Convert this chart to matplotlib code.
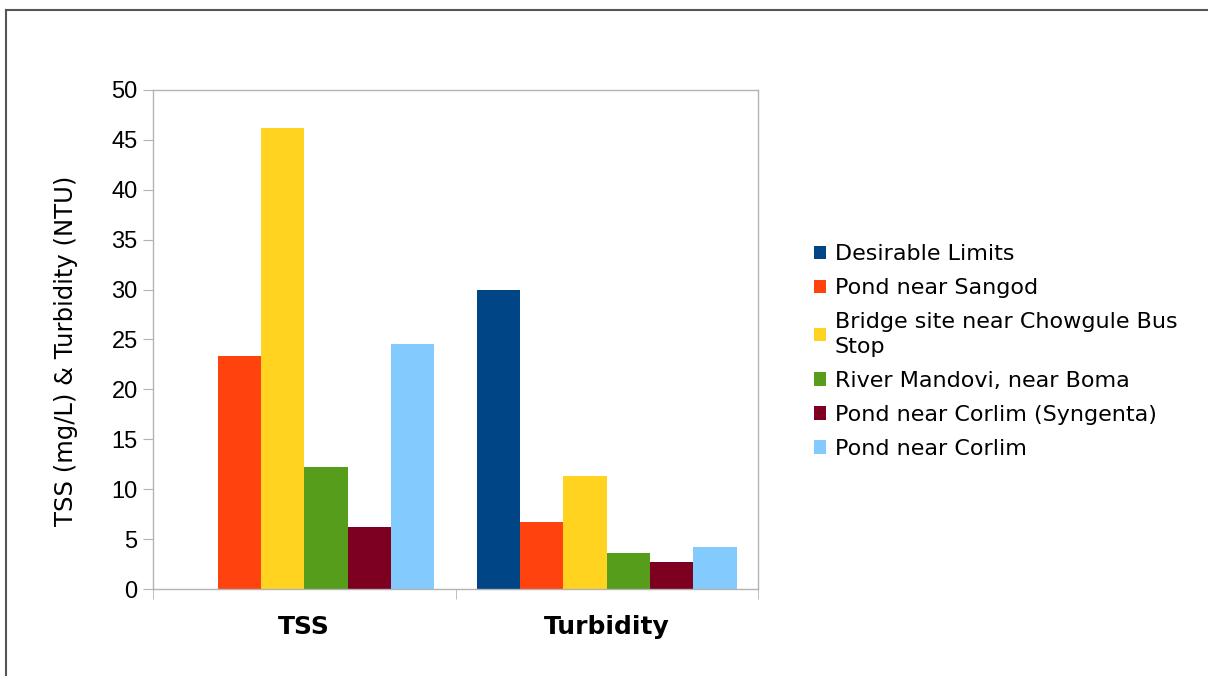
import numpy as np
import matplotlib
matplotlib.use("Agg")
import matplotlib.pyplot as plt
from matplotlib.lines import Line2D

categories = ["TSS", "Turbidity"]
series = ["Desirable Limits", "Pond near Sangod", "Bridge site near Chowgule Bus\nStop",
          "River Mandovi, near Boma", "Pond near Corlim (Syngenta)", "Pond near Corlim"]
desirable = [0, 30]
sangod = [23.3, 6.7]
bridge = [46.2, 11.3]
mandovi = [12.2, 3.6]
corlim_syngenta = [6.2, 2.7]
corlim = [24.5, 4.2]
colors = ["#004586", "#ff420e", "#ffd320", "#579d1c", "#7e0021", "#83caff"]

values = [desirable, sangod, bridge, mandovi, corlim_syngenta, corlim]

W, H = 1208, 676
fig = plt.figure(figsize=(W / 100, H / 100), dpi=100)
ax = fig.add_axes([153 / W, (H - 589) / H, 605 / W, 499 / H])

x = np.arange(len(categories))
bw = 0.86 / len(series)
for i, (name, vals) in enumerate(zip(series, values)):
    off = (i - (len(series) - 1) / 2) * bw
    ax.bar(x + off, vals, bw, color=colors[i], label=name, linewidth=0)

ax.set_xlim(-0.5, 1.5)
ax.set_ylim(0, 50)
ax.set_yticks(np.arange(0, 51, 5))
grey = "#b3b3b3"
for s in ax.spines.values():
    s.set_color(grey)
    s.set_linewidth(1)
ax.tick_params(axis="y", direction="out", length=7, color=grey, labelsize=17, pad=4)
for t in ax.get_yticklabels():
    t.set_fontfamily("Liberation Sans")
ax.set_xticks(x)
ax.set_xticklabels(categories, fontsize=18, fontweight="bold", family="DejaVu Sans")
ax.tick_params(axis="x", which="major", length=0, pad=19)
ax.set_xticks([-0.5, 0.5, 1.5], minor=True)
ax.tick_params(axis="x", which="minor", direction="out", length=7, color=grey)

ax.set_ylabel("TSS (mg/L) & Turbidity (NTU)", fontsize=17.5, family="DejaVu Sans")
ax.yaxis.set_label_coords((78 - 153) / 605, (589 - 351) / 499)

leg = fig.legend(loc="upper left", bbox_to_anchor=(814 / W, 1 - 244 / H), frameon=False,
                 handlelength=0.54, handleheight=0.54, handletextpad=0.4,
                 labelspacing=0.63, borderpad=0, borderaxespad=0,
                 prop={"family": "DejaVu Sans", "size": 16})
for t in leg.get_texts():
    t.set_linespacing(1.3)

# outer frame lines
fig.add_artist(Line2D([6 / W, 6 / W], [0, 1 - 10 / H], color="#555555", lw=1.5))
fig.add_artist(Line2D([6 / W, 1], [1 - 10 / H, 1 - 10 / H], color="#555555", lw=1.5))

fig.savefig("out.png", dpi=100)
